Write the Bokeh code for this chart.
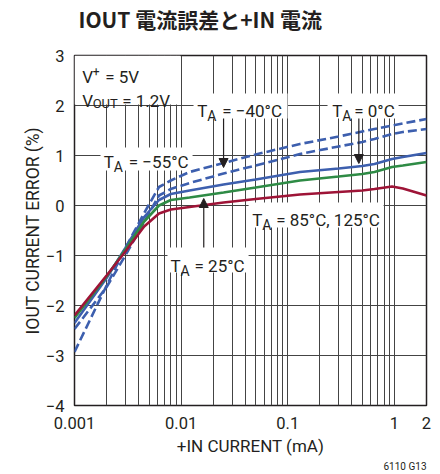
from bokeh.plotting import figure
from bokeh.models import FixedTicker, Label, Arrow, NormalHead, Title
from bokeh.embed import file_html
from bokeh.resources import INLINE

# +IN current (mA) sample points shared by every temperature curve
in_current = [0.001, 0.002, 0.003, 0.0045, 0.0062, 0.008, 0.012, 0.025,
              0.05, 0.13, 0.3, 0.5, 0.65, 0.95, 1.2, 2.0]

# IOUT current error (%) for each ambient temperature
err_m55 = [-2.93, -1.6, -0.85, -0.15, 0.37, 0.5, 0.67, 0.85,
           1.02, 1.23, 1.38, 1.48, 1.53, 1.6, 1.64, 1.73]
err_m40 = [-2.47, -1.63, -1.0, -0.33, 0.2, 0.33, 0.45, 0.64,
           0.8, 1.03, 1.18, 1.27, 1.33, 1.43, 1.47, 1.53]
err_0 = [-2.35, -1.45, -0.85, -0.23, 0.11, 0.23, 0.3, 0.42,
         0.52, 0.67, 0.74, 0.79, 0.83, 0.93, 0.97, 1.05]
err_25 = [-2.25, -1.42, -0.88, -0.32, 0.0, 0.11, 0.16, 0.26,
          0.36, 0.5, 0.58, 0.63, 0.67, 0.77, 0.8, 0.87]
err_85_125 = [-2.2, -1.4, -0.92, -0.42, -0.16, -0.08, -0.03, 0.06,
              0.13, 0.22, 0.27, 0.3, 0.33, 0.38, 0.34, 0.2]

x_ticks = [0.001, 0.01, 0.1, 1, 2]
x_tick_labels = ["0.001", "0.01", "0.1", "1", "2"]
y_ticks = [-4, -3, -2, -1, 0, 1, 2, 3]
y_tick_labels = ["\u22124", "\u22123", "\u22122", "\u22121", "0", "1", "2", "3"]

BLUE = "#3d5fae"
GREEN = "#2e8b45"
RED = "#9e1437"
INK = "#231f20"
FONT = "Roboto"

# the canvas is pulled up by 21px so the heading can sit close to the top edge
p = figure(width=440, height=495, x_axis_type="log",
           x_range=(0.001, 2), y_range=(-4, 3),
           output_backend="svg", toolbar_location=None,
           min_border_left=74, min_border_right=14,
           min_border_top=55, min_border_bottom=69,
           margin=(-21, 0, 0, 0))

p.add_layout(Title(text="IOUT 電流誤差と+IN 電流", text_font="Noto Sans CJK JP",
                   text_font_size="21px", text_font_style="bold",
                   text_color=INK, align="left", offset=4, standoff=44), "above")

# axes
p.xaxis.ticker = FixedTicker(ticks=x_ticks)
p.xaxis.major_label_overrides = dict(zip(x_ticks, x_tick_labels))
p.yaxis.ticker = FixedTicker(ticks=y_ticks)
p.yaxis.major_label_overrides = dict(zip(y_ticks, y_tick_labels))
p.xaxis.axis_label = "+IN CURRENT (mA)"
p.yaxis.axis_label = "IOUT CURRENT ERROR (%)"
for ax in (p.xaxis, p.yaxis):
    ax.major_tick_line_color = None
    ax.minor_tick_line_color = None
    ax.major_tick_out = 0
    ax.major_tick_in = 0
    ax.minor_tick_out = 0
    ax.minor_tick_in = 0
    ax.axis_line_color = None
    ax.major_label_text_font = FONT
    ax.major_label_text_font_size = "16.5px"
    ax.major_label_text_color = INK
    ax.axis_label_text_font = FONT
    ax.axis_label_text_font_style = "normal"
    ax.axis_label_text_color = INK
p.xaxis.axis_label_text_font_size = "17px"
p.yaxis.axis_label_text_font_size = "17.5px"
p.xaxis.major_label_standoff = 11
p.yaxis.major_label_standoff = 10
p.xaxis.axis_label_standoff = 4
p.yaxis.axis_label_standoff = 0

p.add_layout(Title(text="6110 G13", text_font=FONT, text_font_size="10px",
                   text_font_style="normal", text_color=INK, align="right",
                   standoff=0), "below")

# log grid: every 1..9 multiple of each decade
minor = [m * 10.0 ** d for d in (-3, -2, -1, 0) for m in range(1, 10) if m * 10.0 ** d <= 2.0001]
p.xgrid.ticker = FixedTicker(ticks=minor)
p.ygrid.ticker = FixedTicker(ticks=y_ticks)
for g in (p.xgrid, p.ygrid):
    g.grid_line_color = "#444444"
    g.grid_line_width = 1
    g.grid_line_alpha = 1

p.outline_line_color = INK
p.outline_line_width = 1.5
p.background_fill_color = "white"

# white backgrounds behind the annotation texts
boxes_left = [0.001, 0.01307, 0.236, 0.001754, 0.0429, 0.00745]
boxes_right = [0.00987, 0.0995, 1.094, 0.0128, 0.792, 0.0429]
boxes_top = [3.0, 2.24, 2.24, 1.16, 0.06, -0.84]
boxes_bottom = [2.02, 1.74, 1.74, 0.7, -0.44, -1.34]
p.quad(left=boxes_left, right=boxes_right, top=boxes_top, bottom=boxes_bottom,
       fill_color="white", line_color=None)

# temperature curves
p.line(in_current, err_m55, line_color=BLUE, line_width=2.6, line_dash="9 4")
p.line(in_current, err_m40, line_color=BLUE, line_width=2.6, line_dash="9 4")
p.line(in_current, err_0, line_color=BLUE, line_width=2.6)
p.line(in_current, err_25, line_color=GREEN, line_width=2.6)
p.line(in_current, err_85_125, line_color=RED, line_width=2.6)


def txt(x, y, s, size=17, dx=0, dy=0):
    p.add_layout(Label(x=x, y=y, text=s, x_offset=dx, y_offset=dy,
                       text_font=FONT, text_font_size=f"{size}px",
                       text_color=INK, text_baseline="alphabetic",
                       text_align="left"))


def ta(x, y, rest, gap=24):
    txt(x, y, "T")
    txt(x, y, "A", size=14, dx=10, dy=-5)
    txt(x, y, rest, dx=gap)


txt(0.00118, 2.566, "V")
txt(0.00118, 2.566, "+", size=12, dx=10.5, dy=6)
txt(0.00118, 2.566, "= 5V", dx=23)
txt(0.00118, 2.1, "V")
txt(0.00118, 2.1, "OUT", size=13, dx=10.5, dy=-3)
txt(0.00118, 2.1, "= 1.2V", dx=40)

ta(0.01416, 1.9, "= \u221240\u00b0C", gap=25)
ta(0.2614, 1.9, "= 0\u00b0C", gap=22)
ta(0.001883, 0.866, "= \u221255\u00b0C", gap=25)
ta(0.0464, -0.286, "= 85\u00b0C, 125\u00b0C", gap=24)
ta(0.00796, -1.2, "= 25\u00b0C", gap=24)

# pointer arrows
for xs, y0, y1 in [(0.025, 1.74, 0.76), (0.464, 1.74, 0.84), (0.0163, -0.84, 0.14)]:
    p.add_layout(Arrow(end=NormalHead(size=9, fill_color=INK, line_color=INK),
                       x_start=xs, y_start=y0, x_end=xs, y_end=y1,
                       line_color=INK, line_width=1.2))

open("out.html", "w").write(file_html(p, INLINE))
